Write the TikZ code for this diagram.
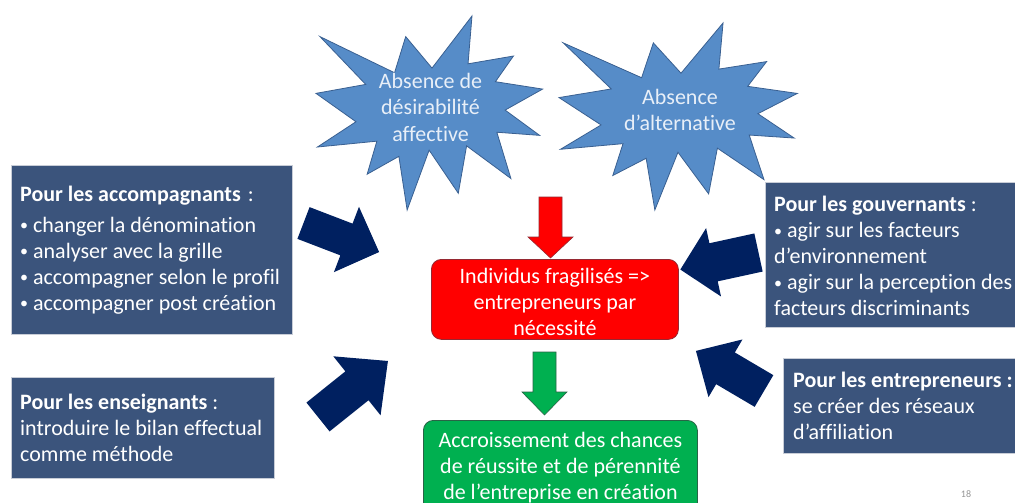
\documentclass[tikz,border=0pt]{standalone}
\usepackage{fontspec}
\setmainfont{Carlito}[Ligatures={NoCommon}]
\usetikzlibrary{calc}
\definecolor{boxblue}{RGB}{59,84,124}
\definecolor{boxedge}{RGB}{200,205,215}
\definecolor{navy}{RGB}{0,32,96}
\definecolor{starblue}{RGB}{86,140,200}
\definecolor{staredge}{RGB}{58,96,145}
\definecolor{starfg}{RGB}{232,239,248}
\definecolor{redfill}{RGB}{255,0,0}
\definecolor{rededge}{RGB}{150,40,50}
\definecolor{greenfill}{RGB}{0,176,80}
\definecolor{greenedge}{RGB}{40,100,70}
\definecolor{pagenum}{RGB}{150,150,150}
\newcommand\bul{\raisebox{1.2pt}{\fontsize{16}{16}\selectfont •}}
\newcommand\burstshape[5]{%
  \begin{scope}[shift={(#1,#2)}, xscale=#3, yscale=#4]
    \path[#5] (108,58) -- (145.22,0) -- (141.55,53.25) -- (183.80,44.57) -- (167.02,73.15)
      -- (210.97,81.37) -- (176.07,104.75) -- (208.17,132.90) -- (168.37,129.42)
      -- (181.45,180.95) -- (140.20,144.57) -- (132.47,197.37) -- (105.32,149.35)
      -- (84.85,216) -- (77.15,156.27) -- (47.62,176.17) -- (56.67,139.37)
      -- (1.35,145.87) -- (37.22,117.75) -- (0,86.15) -- (46.27,76.17)
      -- (3.70,22.95) -- (73.12,63.20) -- (83.52,22.95) -- cycle;
  \end{scope}}
% #1 tail coordinate, #2 angle, #3 length, #4 shaft half width, #5 head half width, #6 head length, #7 style
\newcommand\blockarrow[7]{%
  \begin{scope}[shift={(#1)}, rotate=#2]
    \path[#7] (0,-#4) -- ({#3-#6},-#4) -- ({#3-#6},-#5) -- (#3,0)
      -- ({#3-#6},#5) -- ({#3-#6},#4) -- (0,#4) -- cycle;
  \end{scope}}
\begin{document}
\begin{tikzpicture}[x=1pt,y=-1pt,
  darkbox/.style={fill=boxblue, draw=boxedge, line width=0.7pt, anchor=north west, inner sep=0pt},
  boxtext/.style={anchor=west, align=left, text=white, inner sep=0pt, font=\fontsize{22}{26}\selectfont},
  burst/.style={fill=starblue, draw=staredge, line width=0.8pt, line join=miter},
  startext/.style={align=center, text=starfg, inner sep=0pt, font=\fontsize{22}{26.5}\selectfont},
  roundbox/.style={rounded corners=10pt, line width=0.8pt, anchor=north west, align=center, text=white, inner sep=0pt, font=\fontsize{22}{26}\selectfont},
  navyarrow/.style={fill=navy},
  redarrow/.style={fill=redfill, draw=rededge, line width=0.6pt},
  greenarrow/.style={fill=greenfill, draw=greenedge, line width=0.6pt}
]
\useasboundingbox (0,0) rectangle (1015,503);
\clip (0,0) rectangle (1015,503);
\fill[white] (0,0) rectangle (1015,503);

% stars
\burstshape{316}{16}{1.0741}{0.8981}{burst}
\burstshape{559}{23}{1.1296}{0.8657}{burst}
\node[startext] (star1) at (430.5,107) {Absence de\\désirabilité\\affective};
\node[startext] (star2) at (680,110) {Absence\\d’alternative};

% boxes
\node[darkbox, minimum width=281, minimum height=169] (accBox) at (11,165) {};
\node[boxtext] (accText) at ([xshift=9pt]accBox.west) {\textbf{Pour les accompagnants}\hspace{2pt} :\\[5pt]\bul{} changer la dénomination\\\bul{} analyser avec la grille\\\bul{} accompagner selon le profil\\\bul{} accompagner post création};

\node[darkbox, minimum width=252, minimum height=145] (gouvBox) at (765,182) {};
\node[boxtext] (gouvText) at ([xshift=9pt,yshift=-1pt]gouvBox.west) {\textbf{Pour les gouvernants} :\\\bul{} agir sur les facteurs\\d’environnement\\\bul{} agir sur la perception des\\facteurs discriminants};

\node[darkbox, minimum width=263, minimum height=101] (ensBox) at (11,377) {};
\node[boxtext] (ensText) at ([xshift=9pt]ensBox.west) {\textbf{Pour les enseignants} :\\introduire le bilan effectual\\comme méthode};

\node[darkbox, minimum width=234, minimum height=95] (entBox) at (783,358) {};
\node[boxtext] (entText) at ([xshift=10pt]entBox.west) {\textbf{Pour les entrepreneurs :}\\se créer des réseaux\\d’affiliation};

\node[roundbox, fill=redfill, draw=rededge, minimum width=247, minimum height=80] (red) at (431,259) {\rule{0pt}{21pt}Individus fragilisés =>\\entrepreneurs par\\nécessité};
\node[roundbox, fill=greenfill, draw=greenedge, minimum width=274, minimum height=94] (green) at (423,420) {Accroissement des chances\\de réussite et de pérennité\\de l’entreprise en création};

% arrow tails
\coordinate (tA) at (303.5,223);
\coordinate (tB) at (318,417);
\coordinate (tC) at (758.5,252.5);
\coordinate (tD) at (764,391);
\coordinate (tR) at (550.5,197);
\coordinate (tG) at (544.5,352);

\blockarrow{tA}{-21}{81}{17}{35}{35}{navyarrow}
\blockarrow{tB}{38.7}{89.6}{18.5}{37.8}{39.7}{navyarrow}
\blockarrow{tC}{-167.7}{80}{19.5}{35}{34}{navyarrow}
\blockarrow{tD}{149.5}{79}{18.4}{33.5}{34.3}{navyarrow}
\blockarrow{tR}{-90}{61}{11.5}{22.5}{21}{redarrow}
\blockarrow{tG}{-90}{63}{11.5}{22.5}{23}{greenarrow}

\node[text=pagenum, font=\fontsize{10}{12}\selectfont, inner sep=0pt] (pnum) at (966,494) {18};
\end{tikzpicture}
\end{document}
